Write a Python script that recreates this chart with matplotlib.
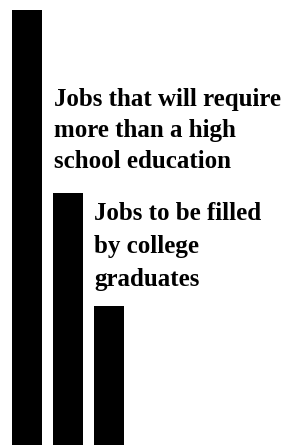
import numpy as np
import matplotlib
matplotlib.use("Agg")
import matplotlib.pyplot as plt

# bar heights, relative (tallest = 100)
categories = ["All jobs", "More than high school", "College graduates"]
values = [100, 58, 32]

labels = [
    "Jobs that will require\nmore than a high\nschool education",
    "Jobs to be filled\nby college\ngraduates",
]

W, H = 297, 445
fig = plt.figure(figsize=(W / 100, H / 100), dpi=100)
ax = fig.add_axes([0, 0, 1, 1])

x = np.arange(len(values))
ax.bar(x, values, width=0.74, color="black")

ax.set_xlim(-0.66, 6.6)
ax.set_ylim(0, 102.3)
ax.axis("off")

font = dict(family="Liberation Serif", weight="bold", size=18,
            color="black", va="top", ha="left")
fig.text(54 / W, 1 - 88 / H, labels[0], linespacing=1.45, **font)
fig.text(94 / W, 1 - 202 / H, labels[1], linespacing=1.55, **font)

fig.savefig("out.png", dpi=100, facecolor="white")
